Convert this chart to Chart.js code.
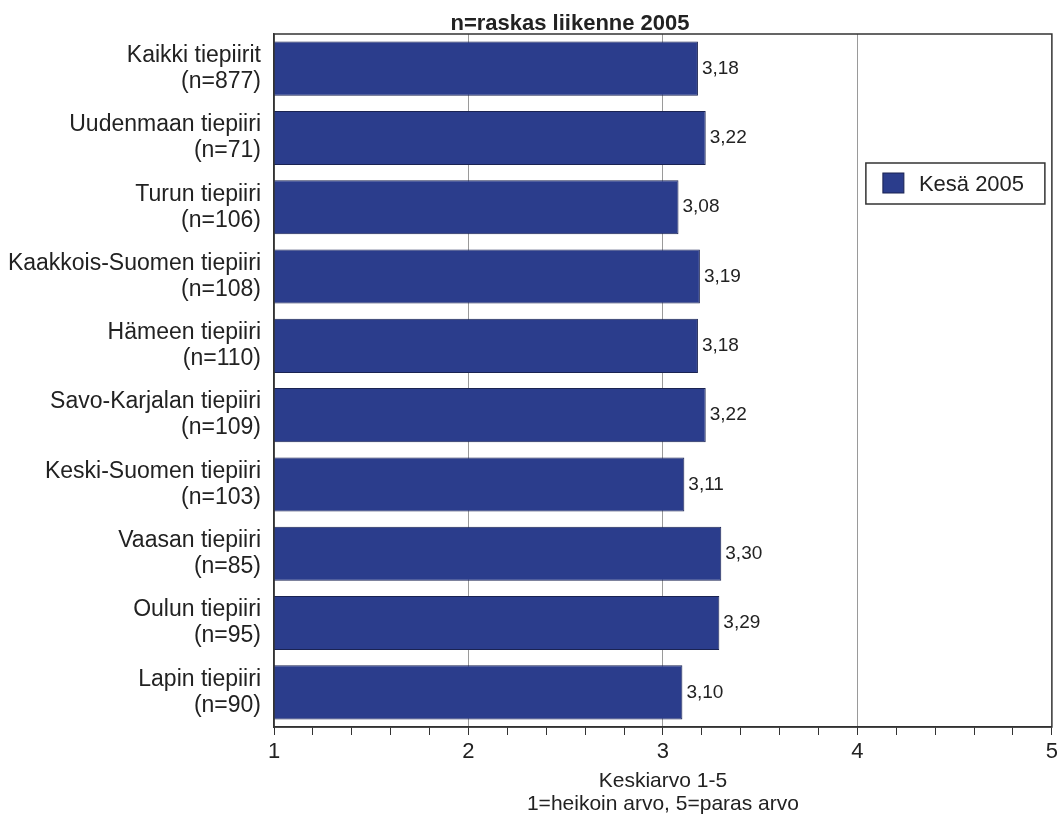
<!DOCTYPE html>
<html>
<head>
<meta charset="utf-8">
<script src="https://cdn.jsdelivr.net/npm/chart.js@4.4.1/dist/chart.umd.min.js"></script>
<style>
  html, body { margin: 0; padding: 0; background: #fff; }
  #wrap { width: 1062px; height: 822px; }
</style>
</head>
<body>
<div id="wrap"><canvas id="myChart" width="1062" height="822"></canvas></div>
<script>
  // data
  var districts = ['Kaikki tiepiirit', 'Uudenmaan tiepiiri', 'Turun tiepiiri', 'Kaakkois-Suomen tiepiiri',
                   'Hämeen tiepiiri', 'Savo-Karjalan tiepiiri', 'Keski-Suomen tiepiiri', 'Vaasan tiepiiri',
                   'Oulun tiepiiri', 'Lapin tiepiiri'];
  var counts = [877, 71, 106, 108, 110, 109, 103, 85, 95, 90];
  var kesa2005 = [3.18, 3.22, 3.08, 3.19, 3.18, 3.22, 3.11, 3.30, 3.29, 3.10];
  var xTicks = [1, 2, 3, 4, 5];

  var chartTitle = 'n=raskas liikenne 2005';
  var seriesName = 'Kesä 2005';
  var xTitle = ['Keskiarvo 1-5', '1=heikoin arvo, 5=paras arvo'];

  var barColor = '#2b3d8c';
  var barBorder = '#1a2352';
  var textColor = '#222';
  var fontFamily = '"Liberation Sans", Arial, sans-serif';

  var labels = districts.map(function(d, i) { return [d, '(n=' + counts[i] + ')']; });

  function isMajor(v) { return Math.abs(v - Math.round(v)) < 1e-6; }

  // title, frame, legend and value labels
  var extras = {
    id: 'extras',
    afterDatasetsDraw: function(chart) {
      var c = chart.ctx, a = chart.chartArea;

      // value labels
      c.save();
      c.font = '19px ' + fontFamily;
      c.fillStyle = textColor;
      c.textBaseline = 'middle';
      chart.getDatasetMeta(0).data.forEach(function(bar, i) {
        c.fillText(kesa2005[i].toFixed(2).replace('.', ','), bar.x + 4, bar.y);
      });
      c.restore();

      // frame
      c.save();
      c.strokeStyle = '#333';
      c.lineWidth = 1.5;
      c.strokeRect(a.left, a.top, a.right - a.left, a.bottom - a.top);
      c.restore();

      // legend
      var lx = a.right - 186, ly = a.top + 129, lw = 179, lh = 41;
      c.save();
      c.fillStyle = '#fff';
      c.fillRect(lx, ly, lw, lh);
      c.strokeStyle = '#333';
      c.lineWidth = 1.5;
      c.strokeRect(lx, ly, lw, lh);
      c.fillStyle = barColor;
      c.fillRect(lx + 17, ly + 10, 21, 20);
      c.strokeStyle = barBorder;
      c.lineWidth = 1;
      c.strokeRect(lx + 17, ly + 10, 21, 20);
      c.fillStyle = textColor;
      c.font = '22px ' + fontFamily;
      c.textBaseline = 'middle';
      c.fillText(seriesName, lx + 53, ly + lh / 2 + 1);
      c.restore();

      // title
      c.save();
      c.font = 'bold 22px ' + fontFamily;
      c.fillStyle = textColor;
      c.textAlign = 'center';
      c.textBaseline = 'alphabetic';
      c.fillText(chartTitle, a.left + 296, 30);
      c.restore();
    }
  };

  var ctx = document.getElementById('myChart').getContext('2d');
  var chart = new Chart(ctx, {
      type: 'bar',
      data: {
          labels: labels,
          datasets: [{
              label: seriesName,
              data: kesa2005,
              backgroundColor: barColor,
              borderColor: barBorder,
              borderWidth: 1,
              borderSkipped: false,
              barPercentage: 0.78,
              categoryPercentage: 1.0
          }]
      },
      options: {
          indexAxis: 'y',
          responsive: false,
          animation: false,
          layout: { padding: { top: 34, right: 7, left: 0, bottom: 0 } },
          plugins: {
              legend: { display: false },
              title: { display: false },
              tooltip: { enabled: false }
          },
          scales: {
              x: {
                  min: 1,
                  max: 5,
                  afterFit: function(s) { s.height = 95; },
                  ticks: {
                      stepSize: 0.2,
                      autoSkip: false,
                      maxRotation: 0,
                      padding: 4,
                      color: textColor,
                      font: { family: fontFamily, size: 22 },
                      callback: function(v) {
                          return (isMajor(v) && xTicks.indexOf(Math.round(v)) >= 0) ? String(Math.round(v)) : '';
                      }
                  },
                  grid: {
                      color: function(c) {
                          var v = c.tick ? c.tick.value : null;
                          return (v !== null && isMajor(v) && v > 1 && v < 5) ? '#9a9a9a' : 'rgba(0,0,0,0)';
                      },
                      tickColor: '#333',
                      tickLength: 8,
                      lineWidth: 1
                  },
                  border: { color: '#333', width: 1.5 },
                  title: {
                      display: true,
                      text: xTitle,
                      color: textColor,
                      font: { family: fontFamily, size: 21, lineHeight: 1.12 },
                      padding: { top: 0, bottom: 6 }
                  }
              },
              y: {
                  afterFit: function(s) { s.width = 274; },
                  ticks: {
                      color: textColor,
                      padding: 5,
                      font: { family: fontFamily, size: 23, lineHeight: 1.13 }
                  },
                  grid: { display: false },
                  border: { color: '#333', width: 1.5 }
              }
          }
      },
      plugins: [extras]
  });
</script>
</body>
</html>
